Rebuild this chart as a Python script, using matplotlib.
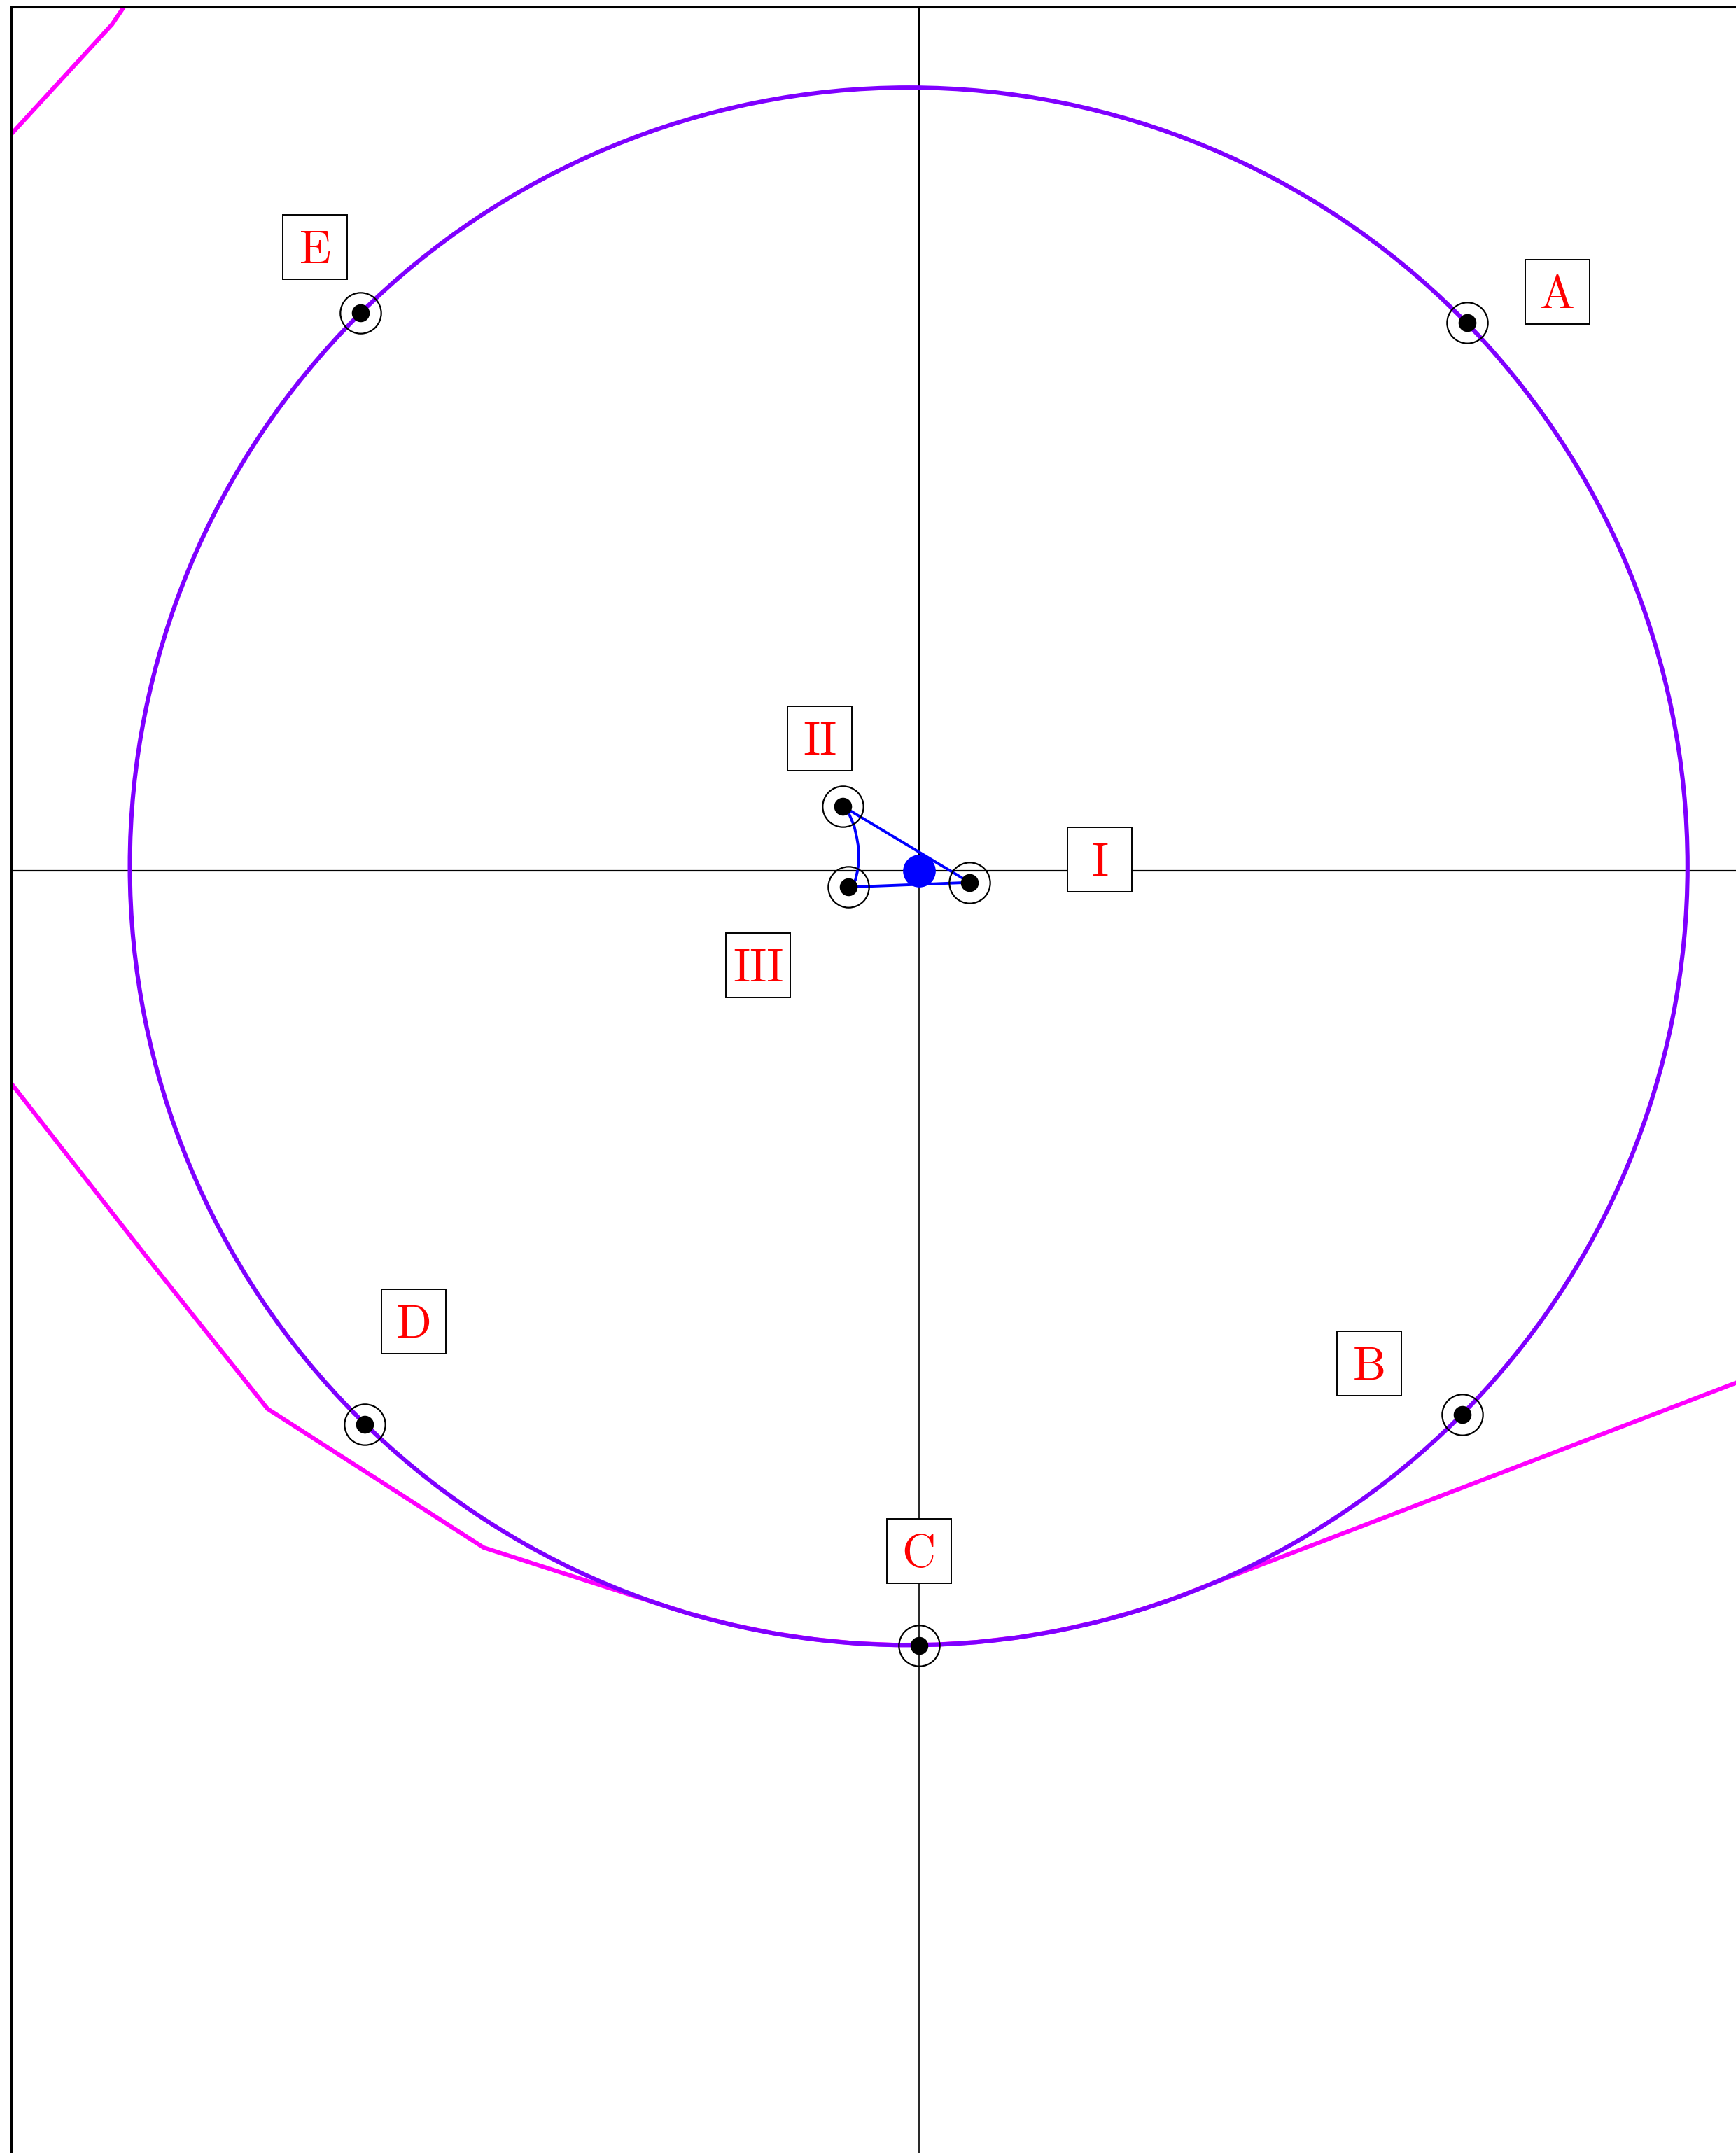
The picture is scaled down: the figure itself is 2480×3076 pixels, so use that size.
import numpy as np
from matplotlib import pyplot as plt
from matplotlib.patches import Circle

# big circle (slightly off the axes origin)
circle_cx, circle_cy, circle_r = -0.0129, 0.0059, 1.0

# outer points on the circle
outer_names = ['A', 'B', 'C', 'D', 'E']
outer_x = [0.7039, 0.6977, 0.0, -0.7112, -0.7168]
outer_y = [0.7043, -0.6981, -0.9944, -0.7104, 0.7169]
# label offsets from each point (data units)
outer_dx = [0.116, -0.119, 0.0, 0.063, -0.058]
outer_dy = [0.039, 0.066, 0.121, 0.132, 0.084]

# inner triangle points
inner_names = ['I', 'II', 'III']
inner_x = [0.0653, -0.0973, -0.0900]
inner_y = [-0.0147, 0.0830, -0.0207]
inner_dx = [0.167, -0.030, -0.116]
inner_dy = [0.029, 0.087, -0.100]

# curved side from II down to III
curve_x = [-0.0973, -0.0898, -0.0829, -0.0795, -0.0770, -0.0770, -0.0784,
           -0.0812, -0.0846, -0.0900]
curve_y = [0.0830, 0.0742, 0.0578, 0.0428, 0.0279, 0.0129, 0.0009,
           -0.0111, -0.0171, -0.0207]

# magenta path, upper left piece
mag_top_x = [-1.20, -1.1653, -1.0358, -1.0206, -1.005]
mag_top_y = [0.908, 0.946, 1.0869, 1.1094, 1.132]
# magenta path, lower piece (runs under the circle along the bottom)
mag_low_x = [-1.20, -1.1658, -0.9954, -0.8361, -0.5586, -0.2971,
             -0.2379, -0.1865, -0.1348, -0.0827, -0.0304, 0.0220,
             0.0743, 0.1263, 0.1779, 0.2290, 0.2795, 0.3291, 0.3778,
             1.0493, 1.10]
mag_low_y = [-0.229, -0.2721, -0.4905, -0.6907, -0.8689, -0.9530,
             -0.9685, -0.9789, -0.9866, -0.9917, -0.9939, -0.9935,
             -0.9903, -0.9844, -0.9757, -0.9644, -0.9504, -0.9338, -0.9146,
             -0.6574, -0.637]

fig = plt.figure(figsize=(12.4, 15.38), dpi=200)
ax = fig.add_axes([16 / 2480, 0, 2464 / 2480, 3066 / 3076])
ax.set_xlim(-1.1653, 1.0493)
ax.set_ylim(-1.6463, 1.1094)
ax.set_xticks([])
ax.set_yticks([])
ax.spines['right'].set_visible(False)
ax.spines['bottom'].set_visible(False)
ax.spines['left'].set_linewidth(1.1)
ax.spines['top'].set_linewidth(1.1)

# coordinate axes
ax.axhline(0, color='black', lw=0.8, zorder=1)
ax.vlines(0, 0, 1.2, color='black', lw=0.85, zorder=1)
ax.vlines(0, -1.7, 0, color='black', lw=0.6, zorder=1)

ax.plot(mag_top_x, mag_top_y, color='#ff00ff', lw=2.2, zorder=2)
ax.plot(mag_low_x, mag_low_y, color='#ff00ff', lw=2.2, zorder=2)

ax.add_patch(Circle((circle_cx, circle_cy), circle_r, fill=False,
                    edgecolor='#7f00ff', lw=2.2, zorder=3))

# inner triangle
ax.plot([inner_x[1], inner_x[0], inner_x[2]], [inner_y[1], inner_y[0], inner_y[2]],
        color='blue', lw=1.4, zorder=4)
ax.plot(curve_x, curve_y, color='blue', lw=1.4, zorder=4)
ax.plot([0], [0], 'o', color='blue', ms=15.8, zorder=4)

all_x = np.array(outer_x + inner_x)
all_y = np.array(outer_y + inner_y)
ax.plot(all_x, all_y, 'o', color='black', ms=8.2, zorder=5)
ax.plot(all_x, all_y, 'o', mfc='none', mec='black', mew=0.8, ms=21, zorder=5)

names = outer_names + inner_names
lab_x = all_x + np.array(outer_dx + inner_dx)
lab_y = all_y + np.array(outer_dy + inner_dy)
ax.plot(lab_x, lab_y, 's', mfc='white', mec='black', mew=0.7, ms=32.8, zorder=6)
for name, lx, ly in zip(names, lab_x, lab_y):
    ax.annotate(name, (lx, ly), xytext=(0, -8.3), textcoords='offset points',
                ha='center', va='baseline', color='red', fontsize=24,
                family='cmr10', zorder=7)

fig.savefig('out.png', dpi=200)
